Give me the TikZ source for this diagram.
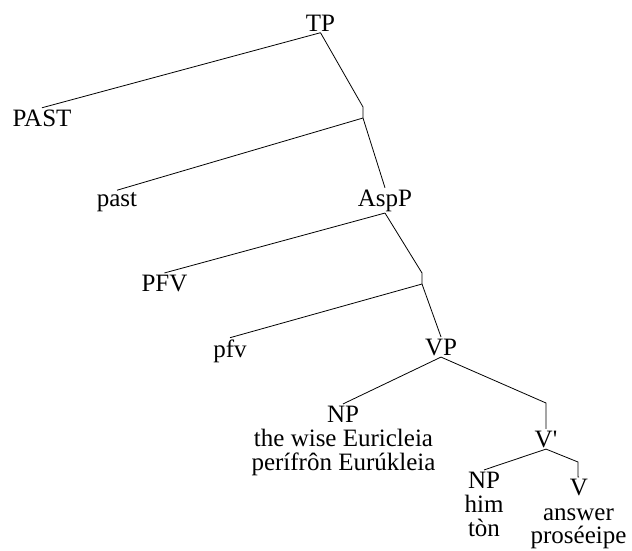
\documentclass[tikz,border=0pt]{standalone}
\usepackage{fontspec}
\setmainfont{Liberation Serif}
\begin{document}
\begin{tikzpicture}[x=1pt,y=-1pt,
  lab/.style={inner sep=1.5pt, anchor=base, font=\fontsize{25}{24}\selectfont},
  leaf/.style={lab, inner sep=0pt},
  edge/.style={draw=black, line width=0.8pt}]
\useasboundingbox (0,0) rectangle (632,550);
% nodes
\node[lab] (TP) at (320.5,31) {TP};
\node[lab] (PAST) at (42,126) {PAST};
\coordinate (x1t) at (363,107);
\coordinate (x1b) at (363,118);
\node[lab] (past) at (117,206) {past};
\node[lab] (AspP) at (385,206) {AspP};
\node[lab] (PFV) at (164.5,291) {PFV};
\coordinate (x2t) at (422,273);
\coordinate (x2b) at (422,284);
\node[lab] (pfv) at (230,357) {pfv};
\node[lab] (VP) at (441,355) {VP};
\coordinate (x3t) at (546,403);
\coordinate (x3b) at (546,428);
\node[lab] (NPa) at (343,422) {NP};
\node[leaf] (NPa1) at (343.5,446) {the wise Euricleia};
\node[leaf] (NPa2) at (343.5,470) {perífrôn Eurúkleia};
\node[lab] (Vbar) at (546,447) {V\textquotesingle};
\node[lab] (NPb) at (484,488) {NP};
\node[leaf] (him) at (484,512) {him};
\node[leaf] (ton) at (484,536) {tòn};
\coordinate (x4t) at (578,462);
\coordinate (x4b) at (578,477);
\node[lab] (V) at (579,495) {V};
\node[leaf] (answer) at (578.5,520) {answer};
\node[leaf] (prose) at (578.5,543) {proséeipe};
% connectors
\draw[edge] (TP.south) -- (PAST.north);
\draw[edge] (TP.south) -- (x1t) -- (x1b);
\draw[edge] (x1b) -- (past.north);
\draw[edge] (x1b) -- (AspP.north);
\draw[edge] (AspP.south) -- (PFV.north);
\draw[edge] (AspP.south) -- (x2t) -- (x2b);
\draw[edge] (x2b) -- (pfv.north);
\draw[edge] (x2b) -- (VP.north);
\draw[edge] (VP.south) -- (NPa.north);
\draw[edge] (VP.south) -- (x3t) -- (x3b) -- (Vbar.north);
\draw[edge] (Vbar.south) -- (NPb.north);
\draw[edge] (Vbar.south) -- (x4t) -- (x4b) -- (V.north);
\end{tikzpicture}
\end{document}
